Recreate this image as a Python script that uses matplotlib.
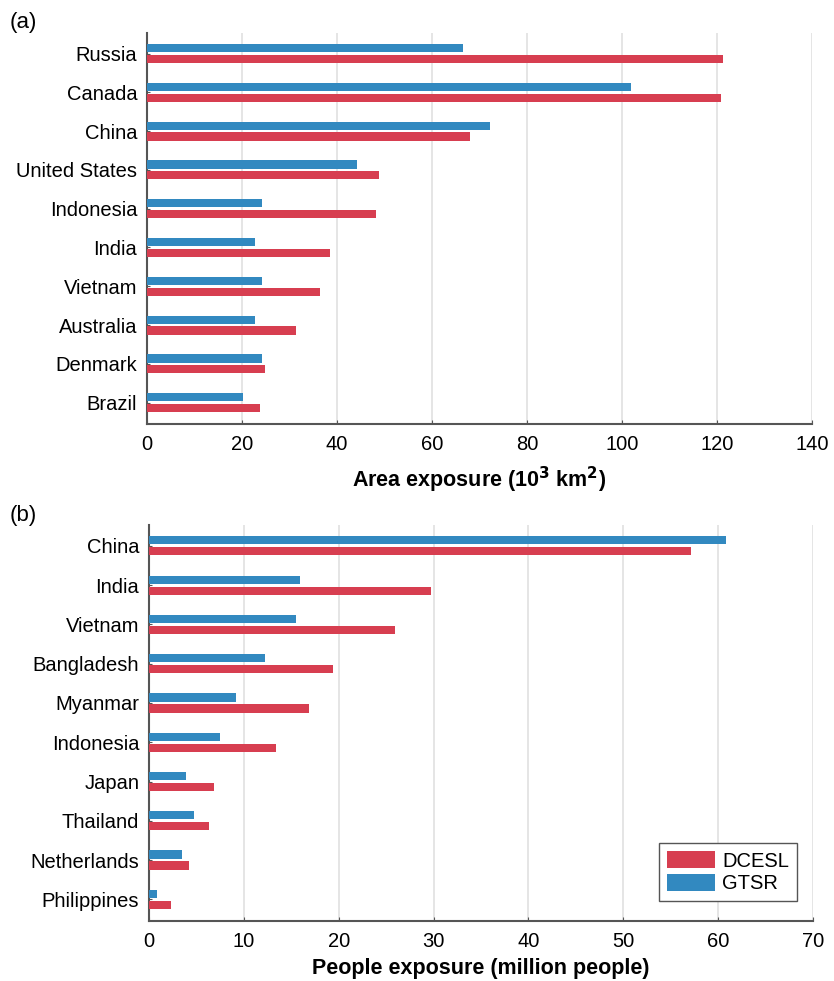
"""
Exposición al aumento del nivel del mar por país: área y población,
comparando los conjuntos DCESL y GTSR.
"""

import numpy as np
import matplotlib.pyplot as plt

plt.rcParams["font.family"] = ["Liberation Sans", "DejaVu Sans"]

# (a) área expuesta, 10^3 km2
area_countries = ["Russia", "Canada", "China", "United States", "Indonesia",
                  "India", "Vietnam", "Australia", "Denmark", "Brazil"]
area_dcesl = [121.2, 120.8, 67.9, 48.9, 48.3, 38.6, 36.5, 31.4, 24.9, 23.8]
area_gtsr = [66.6, 102.0, 72.3, 44.2, 24.2, 22.8, 24.2, 22.7, 24.1, 20.1]
area_ticks = [0, 20, 40, 60, 80, 100, 120, 140]

# (b) población expuesta, millones de personas
pop_countries = ["China", "India", "Vietnam", "Bangladesh", "Myanmar",
                 "Indonesia", "Japan", "Thailand", "Netherlands", "Philippines"]
pop_dcesl = [57.1, 29.7, 25.9, 19.4, 16.9, 13.4, 6.85, 6.3, 4.2, 2.3]
pop_gtsr = [60.8, 15.9, 15.5, 12.2, 9.2, 7.45, 3.9, 4.75, 3.45, 0.8]
pop_ticks = [0, 10, 20, 30, 40, 50, 60, 70]

RED = "#D73E50"
BLUE = "#3289C0"
SPINE = "#555555"
FS = 14.5


def draw_panel(ax, names, dcesl, gtsr, ticks, xlabel, labelpad=6):
    y = np.arange(len(names))
    h = 0.21
    off = 0.14
    ax.barh(y + off, dcesl, height=h, color=RED, label="DCESL", zorder=3)
    ax.barh(y - off, gtsr, height=h, color=BLUE, label="GTSR", zorder=3)
    ax.set_yticks(y)
    ax.set_yticklabels(names, fontsize=FS)
    ax.set_ylim(len(names) - 0.45, -0.53)
    ax.set_xticks(ticks)
    ax.set_xlim(ticks[0], ticks[-1])
    ax.tick_params(axis="x", labelsize=FS, direction="in", length=3,
                   color=SPINE, pad=8)
    ax.tick_params(axis="y", direction="in", length=2, color=SPINE, pad=7)
    ax.grid(axis="x", color="#e3e3e3", lw=1.3, zorder=0)
    for s in ("top", "right"):
        ax.spines[s].set_visible(False)
    for s in ("left", "bottom"):
        ax.spines[s].set_color(SPINE)
        ax.spines[s].set_linewidth(1.5)
    ax.set_xlabel(xlabel, fontsize=15.5, fontweight="bold", labelpad=labelpad)


fig = plt.figure(figsize=(8.34, 9.81), dpi=100)
ax_a = fig.add_axes([0.1763, 0.5678, 0.7973, 0.3986])
ax_b = fig.add_axes([0.1787, 0.0612, 0.7961, 0.4036])

draw_panel(ax_a, area_countries, area_dcesl, area_gtsr, area_ticks,
           r"Area exposure (10$^\mathbf{3}$ km$^\mathbf{2}$)", labelpad=8)
draw_panel(ax_b, pop_countries, pop_dcesl, pop_gtsr, pop_ticks,
           "People exposure (million people)", labelpad=5)

leg = ax_b.legend(loc="lower right", bbox_to_anchor=(0.976, 0.05),
                  borderaxespad=0, fontsize=FS, fancybox=False, framealpha=1,
                  edgecolor="#555555", handlelength=2.4, handleheight=0.9,
                  borderpad=0.4, labelspacing=0.15, handletextpad=0.35)
leg.get_frame().set_linewidth(1.0)

fig.text(0.012, 0.977, "(a)", fontsize=16, va="center")
fig.text(0.012, 0.475, "(b)", fontsize=16, va="center")

fig.savefig("out.png", dpi=100)
